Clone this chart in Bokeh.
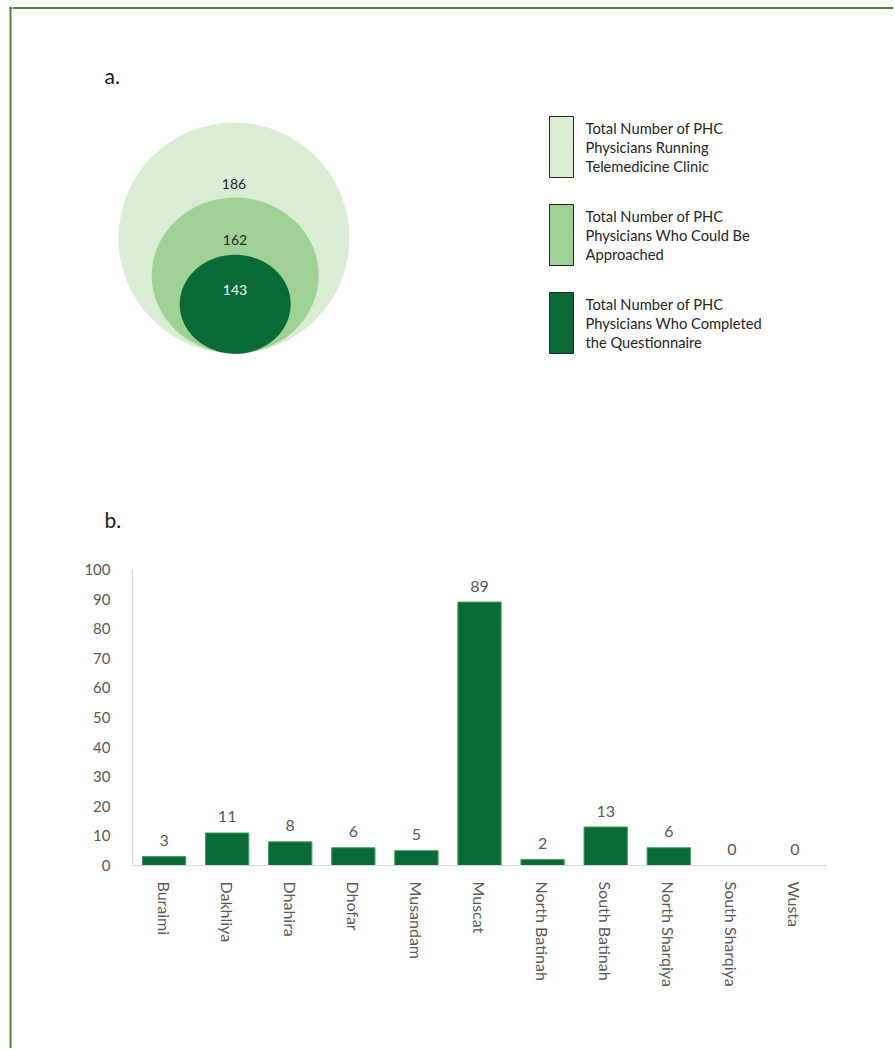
import math
from bokeh.plotting import figure
from bokeh.models import Range1d, FactorRange, FixedTicker, ColumnDataSource
from bokeh.layouts import row, column
from bokeh.core.properties import value
from bokeh.embed import file_html
from bokeh.resources import INLINE

# ---------------- data ----------------
venn_values = [186, 162, 143]
venn_names = [
    ["Total Number of PHC", "Physicians Running", "Telemedicine Clinic"],
    ["Total Number of PHC", "Physicians Who Could Be", "Approached"],
    ["Total Number of PHC", "Physicians Who Completed", "the Questionnaire"],
]
venn_colors = ["#D9EDD4", "#9FD195", "#0A6A35"]
venn_text_colors = ["#262626", "#262626", "#FFFFFF"]

regions = ["Buraimi", "Dakhliya", "Dhahira", "Dhofar", "Musandam", "Muscat",
           "North Batinah", "South Batinah", "North Sharqiya", "South Sharqiya", "Wusta"]
counts = [3, 11, 8, 6, 5, 89, 2, 13, 6, 0, 0]
y_ticks = [0, 10, 20, 30, 40, 50, 60, 70, 80, 90, 100]

FONT = "Lato"
FRAME = "#548235"
BAR = "#0A6A35"
GRAY = "#595959"
H_TOTAL = 1048

# ---------------- left strip holding the frame border ----------------
strip = figure(width=12, height=H_TOTAL, output_backend="svg", toolbar_location=None,
               x_range=Range1d(0, 12), y_range=Range1d(H_TOTAL, 0),
               min_border=0, x_axis_type=None, y_axis_type=None, frame_align=False)
strip.grid.visible = False
strip.outline_line_color = None
strip.quad(left=[9, 9], right=[11, 12], top=[6.5, 6.5], bottom=[H_TOTAL, 8.5],
           fill_color=FRAME, line_color=None)

# ---------------- part a (page-pixel coordinates) ----------------
TW = 881
top = figure(width=TW, height=540, output_backend="svg", toolbar_location=None,
             x_range=Range1d(12, 12 + TW), y_range=Range1d(540, 0),
             min_border=0, x_axis_type=None, y_axis_type=None, frame_align=False)
top.grid.visible = False
top.outline_line_color = None

# top border line
top.quad(left=[12], right=[12 + TW], top=[6.5], bottom=[8.5], fill_color=FRAME, line_color=None)

top.text(x=[104], y=[75], text=["a."], text_font=value(FONT), text_font_size="21px",
         text_color="#1a1a1a", text_baseline="middle", text_align="left")
top.text(x=[104], y=[519], text=["b."], text_font=value(FONT), text_font_size="21px",
         text_color="#1a1a1a", text_baseline="middle", text_align="left")

# nested circles (outer -> inner)
cx = [233.5, 234.7, 234.7]
cy = [237.5, 275.0, 303.8]
cw = [231.0, 167.0, 111.0]
ch = [231.0, 156.0, 99.0]
top.ellipse(x=cx, y=cy, width=cw, height=ch, fill_color=venn_colors, line_color=None)
top.text(x=[233.5, 234.5, 234.5], y=[183, 239, 289], text=[str(v) for v in venn_values],
         text_font=value(FONT), text_font_size="14px", text_color=venn_text_colors,
         text_align="center", text_baseline="middle")

# legend
box_tops = [116, 204, 292]
box_h = 61
top.quad(left=[549] * 3, right=[573] * 3, top=box_tops, bottom=[t + box_h for t in box_tops],
         fill_color=venn_colors, line_color="#262626", line_width=1)
lx, ly, lt = [], [], []
for t, lines in zip(box_tops, venn_names):
    for i, s in enumerate(lines):
        lx.append(585)
        ly.append(t + 11.5 + i * 19.2)
        lt.append(s)
top.text(x=lx, y=ly, text=lt, text_font=value(FONT), text_font_size="14.7px",
         text_color="#262626", text_align="left", text_baseline="middle")

# ---------------- part b bar chart ----------------
src = ColumnDataSource(dict(region=regions, count=counts, label=[str(c) for c in counts]))
bar = figure(width=TW, height=508, output_backend="svg", toolbar_location=None,
             x_range=FactorRange(*regions, range_padding=0), y_range=Range1d(0, 100),
             min_border_left=120, min_border_right=67, min_border_top=29, min_border_bottom=183,
             frame_align=False)
bar.vbar(x="region", top="count", width=0.686, source=src, fill_color=BAR,
         line_color="#3E9E5E", line_width=1)
bar.text(x="region", y="count", text="label", source=src, text_font=value(FONT),
         text_font_size="16px", text_color=GRAY, text_align="center",
         text_baseline="alphabetic", y_offset=-16)
bar.grid.visible = False
bar.outline_line_color = None

bar.yaxis.ticker = FixedTicker(ticks=y_ticks)
bar.yaxis.major_tick_line_color = None
bar.yaxis.minor_tick_line_color = None
bar.yaxis.axis_line_color = "#D9D9D9"
bar.yaxis.major_label_standoff = 16
bar.yaxis.major_label_text_font = FONT
bar.yaxis.major_label_text_font_size = "15px"
bar.yaxis.major_label_text_color = GRAY

bar.xaxis.major_tick_line_color = None
bar.xaxis.minor_tick_line_color = None
bar.xaxis.axis_line_color = "#D9D9D9"
bar.xaxis.major_label_orientation = -math.pi / 2
bar.xaxis.major_label_standoff = 10
bar.xaxis.major_label_text_font = FONT
bar.xaxis.major_label_text_font_size = "16px"
bar.xaxis.major_label_text_color = GRAY

layout = row(strip, column(top, bar))
open("out.html", "w").write(file_html(layout, INLINE))
